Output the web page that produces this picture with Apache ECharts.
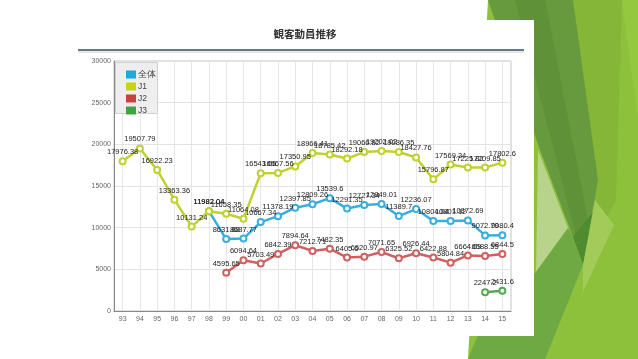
<!DOCTYPE html>
<html><head><meta charset="utf-8">
<script src="https://cdn.jsdelivr.net/npm/echarts@6/dist/echarts.min.js"></script>
<style>html,body{margin:0;padding:0;background:#fff;}#c{width:638px;height:359px;}</style>
</head><body><div id="c"></div>
<script>
const categories = ['93','94','95','96','97','98','99','00','01','02','03','04','05','06','07','08','09','10','11','12','13','14','15'];
const seriesNames = ['全体','J1','J2','J3'];
const allValues = [null,null,null,null,null,11982.04,8631.88,8687.77,10667.34,11378.19,12397.85,12809.26,13539.6,12291.35,12727.34,12849.01,11389.7,12236.07,10804.04,10801.12,10872.69,9072.79,9080.4];
const j1Values = [17976.38,19507.79,16922.23,13363.36,10131.24,11982.04,11658.35,11064.08,16543.66,16567.56,17350.95,18966.41,18785.42,18292.18,19066.82,19202.02,19086.35,18427.76,15796.87,17569.34,17225.82,17209.85,17802.6];
const j2Values = [null,null,null,null,null,null,4595.65,6094.64,5703.49,6842.39,7894.64,7212.71,7482.35,6405.6,6520.97,7071.65,6325.52,6926.44,6422.88,5804.84,6664.69,6588.55,6844.5];
const j3Values = [null,null,null,null,null,null,null,null,null,null,null,null,null,null,null,null,null,null,null,null,null,2247.2,2431.6];
const yTicks = {min:0, max:30000, interval:5000};

const lineColors = ['#3aade0','#bfd12f','#d06060','#55a955'];
const legendColors = ['#1ea7e1','#c5d516','#c9403e','#3fa342'];
const values = [allValues, j1Values, j2Values, j3Values];

const chart = echarts.init(document.getElementById('c'));
const font = 'Liberation Sans, Arial, sans-serif';

const series = seriesNames.map((n,i)=>({
  name:n, type:'line', data:values[i], connectNulls:false,
  symbol:'emptyCircle', symbolSize:6,
  lineStyle:{width:2.5,color:lineColors[i]},
  itemStyle:{color:lineColors[i], borderWidth:1.5},
  label:{show:true, position:'top', distance:1, fontSize:7.5, color:'#222', fontFamily:font},
  emphasis:{disabled:true}, animation:false, z:3+i
}));

const graphic = [
  {type:'polygon', z:-10, shape:{points:[[488,0],[638,0],[638,359],[468,359]]}, style:{fill:'#8dc13c'}},
  {type:'polygon', z:-9, shape:{points:[[622,0],[638,0],[638,120]]}, style:{fill:'#93c83f'}},
  {type:'polygon', z:-9, shape:{points:[[573,0],[622,0],[616,200],[583,263]]}, style:{fill:'#86b638'}},
  {type:'polygon', z:-8, shape:{points:[[488,0],[573,0],[598,180],[583,263],[573,237],[540,150]]}, style:{fill:'#67993e'}},
  {type:'polygon', z:-8, shape:{points:[[515,0],[545,0],[590,230],[583,263]]}, style:{fill:'#5f9238'}},
  {type:'polygon', z:-7, shape:{points:[[538,150],[568,228],[536,272]]}, style:{fill:'#b8d48a'}},
  {type:'polygon', z:-7, shape:{points:[[573,237],[593,212],[583,265]]}, style:{fill:'#4f8b2f'}},
  {type:'polygon', z:-7, shape:{points:[[595,200],[614,225],[583,292],[583,265]]}, style:{fill:'#a2cb5a'}},
  {type:'polygon', z:-7, shape:{points:[[468,359],[480,330],[536,272],[568,228],[573,237],[583,265],[545,359]]}, style:{fill:'#6ea943'}},
  {type:'rect', z:-5, shape:{x:0,y:20,width:534,height:316}, style:{fill:'#ffffff'}},
  {type:'line', z:-4, shape:{x1:78,y1:50,x2:524,y2:50}, style:{stroke:'#66798f',lineWidth:2}},
  {type:'line', z:-4, shape:{x1:78,y1:52,x2:524,y2:52}, style:{stroke:'#c9d1da',lineWidth:1}},
  {type:'rect', z:1, shape:{x:115.5,y:62.5,width:42,height:51}, style:{fill:'#eeeeee',stroke:'#d0d0d0',lineWidth:1}}
];

chart.setOption({
  animation:false,
  backgroundColor:'#ffffff',
  title:{text:'観客動員推移', left:300, top:24, textAlign:'center',
    textStyle:{fontSize:10.5, fontWeight:'bold', color:'#333', fontFamily:'Noto Sans CJK JP'}},
  legend:{orient:'vertical', left:121, top:65, itemWidth:10, itemHeight:8, itemGap:3,
    icon:'rect', data:seriesNames.map((n,i)=>({name:n, itemStyle:{color:legendColors[i]}})),
    textStyle:{fontSize:8.5, color:'#444', fontFamily:font, padding:[0,0,0,-3]}, z:5},
  grid:{left:114, right:127, top:61, bottom:48, show:true, borderColor:'#c4c4c4', borderWidth:1, backgroundColor:'transparent'},
  xAxis:{type:'category', data:categories, boundaryGap:true,
    axisLine:{lineStyle:{color:'#888',width:1}}, axisTick:{show:false},
    axisLabel:{fontSize:7, color:'#666', margin:5, fontFamily:font, interval:0},
    splitLine:{show:true, alignWithLabel:true, lineStyle:{color:'#e6e6e6',width:1}}},
  yAxis:{type:'value', min:yTicks.min, max:yTicks.max, interval:yTicks.interval,
    axisLine:{show:true, lineStyle:{color:'#888',width:1}}, axisTick:{show:false},
    axisLabel:{fontSize:7, color:'#666', margin:3, fontFamily:font, formatter:(v)=>String(v)},
    splitLine:{show:true, lineStyle:{color:'#e3e3e3',width:1}}},
  graphic:graphic,
  series:series
});
</script></body></html>
